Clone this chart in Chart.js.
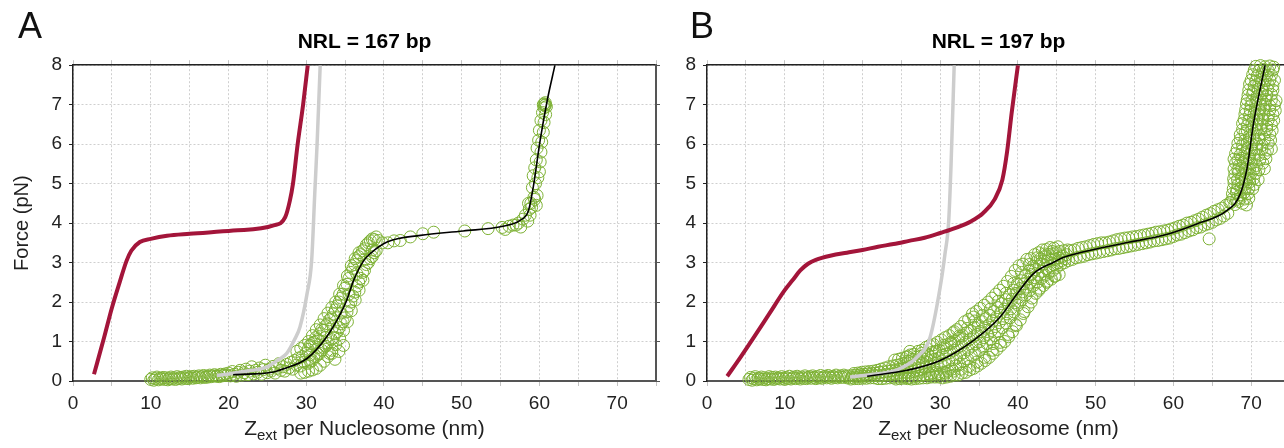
<!DOCTYPE html>
<html>
<head>
<meta charset="utf-8">
<script src="https://cdn.jsdelivr.net/npm/chart.js@4.4.1/dist/chart.umd.min.js"></script>
<style>
    body { margin: 0; background: #fff; }
    #wrap { position: relative; width: 1284px; height: 448px; overflow: hidden; font-family: "Liberation Sans", Arial, sans-serif; }
    canvas { position: absolute; top: 0; }
    .panel { position: absolute; font-size: 36px; line-height: 36px; color: #111; }
    .xlab { position: absolute; top: 416px; width: 583px; text-align: center; font-size: 21px; line-height: 24px; color: #222; }
    .xlab sub { font-size: 15px; line-height: 0; }
</style>
</head>
<body>
<div id="wrap">
    <canvas id="chartA" width="664" height="448" style="left:0"></canvas>
    <canvas id="chartB" width="664" height="448" style="left:634px"></canvas>
    <div class="panel" style="left:18px;top:8px">A</div>
    <div class="panel" style="left:690px;top:8px">B</div>
    <div class="xlab" style="left:73px">Z<sub>ext</sub> per Nucleosome (nm)</div>
    <div class="xlab" style="left:707px">Z<sub>ext</sub> per Nucleosome (nm)</div>
</div>
<script>
// panel A, NRL = 167 bp
const redAx = [2.7, 4.0, 5.0, 6.0, 6.9, 7.5, 8.6, 10, 12.1, 15, 20.6, 25.8, 27.3, 27.9, 28.3, 28.9, 29.6, 30.2];
const redAy = [0.17, 1.1, 1.85, 2.5, 3.05, 3.3, 3.52, 3.6, 3.68, 3.73, 3.81, 3.94, 4.15, 4.57, 5.0, 6.0, 7.0, 8.0];
const grayAx = [18.5, 20, 22, 24.9, 26.5, 27.5, 28.5, 29.2, 30.1, 30.7, 31.1, 31.4, 31.8];
const grayAy = [0.14, 0.18, 0.24, 0.35, 0.55, 0.7, 1.05, 1.37, 2.2, 3.05, 4.74, 6.0, 8.0];
const fitAx = [20.6, 25.8, 27.1, 30.1, 32.6, 34.4, 35.2, 36.1, 37.4, 38.2, 40.4, 44.7, 50.2, 55.3, 57.5, 58.6, 59.2, 60.1, 61.0, 62.0];
const fitAy = [0.16, 0.23, 0.31, 0.57, 1.11, 1.7, 2.04, 2.55, 3.05, 3.22, 3.52, 3.69, 3.8, 3.92, 4.07, 4.32, 4.9, 6.1, 7.1, 8.0];
const dataAx = [
    10.0, 10.2, 10.4, 10.6, 10.8, 11.0, 11.2, 11.4, 11.6, 11.8, 12.0, 12.2, 12.4, 12.6, 12.8, 13.0, 13.2, 13.4, 13.6, 13.8,
    14.0, 14.2, 14.4, 14.6, 14.8, 15.0, 15.2, 15.4, 15.6, 15.8, 16.0, 16.2, 16.4, 16.6, 16.8, 17.0, 17.2, 17.4, 17.6, 17.8,
    18.0, 18.2, 18.4, 18.6, 18.8, 19.0, 19.2, 19.4, 19.6, 19.8,
    20.0, 20.25, 20.5, 20.75, 21.0, 21.25, 21.5, 21.75, 22.0, 22.25, 22.5, 22.75, 23.0, 23.25, 23.5, 23.75, 24.0, 24.25, 24.5, 24.75,
    25.0, 25.25, 25.5, 25.75, 26.0, 26.25, 26.5, 26.75, 27.0, 27.25, 27.5, 27.75, 28.0, 28.25, 28.5, 28.75, 29.0, 29.25, 29.5, 29.75, 30.0,
    30.25, 30.25, 30.5, 30.5, 30.75, 30.75, 31.0, 31.0, 31.25, 31.25, 31.5, 31.5, 31.75, 31.75, 32.0, 32.0, 32.25, 32.25, 32.5, 32.5,
    32.75, 32.75, 33.0, 33.0, 33.25, 33.25, 33.5, 33.5, 33.75, 33.75, 34.0, 34.0, 34.25, 34.25, 34.5, 34.5, 34.75, 34.75, 35.0, 35.0,
    35.25, 35.25, 35.5, 35.5, 35.75, 35.75, 36.0, 36.0, 36.25, 36.25, 36.5, 36.5, 36.75, 36.75, 37.0, 37.0, 37.25, 37.25, 37.5, 37.5,
    37.75, 37.75, 38.0, 38.0, 38.25, 38.25, 38.5, 38.5, 38.75, 38.75, 39.0, 39.0,
    30.5, 31.5, 32.5, 33.5, 34.5, 35.5, 36.5, 37.5, 38.5, 33.3, 33.7, 34.2, 34.8,
    29.3, 28.8, 29.8, 29.3, 30.3, 29.8, 30.8, 30.3, 31.3, 30.8, 31.8, 31.3, 32.3, 31.8, 32.8, 32.3, 33.3, 32.8,
    33.8, 33.3, 34.3, 33.8, 34.8, 34.3, 35.3, 34.8, 35.8, 35.3, 36.3, 35.8, 36.8, 36.3, 37.3, 36.8,
    39.3, 39.8, 40.5, 41.3, 42.1, 43.4, 45.0, 46.4, 50.4, 53.4, 55.2, 55.6, 56.1, 56.6,
    57.0, 57.3, 57.6, 57.9, 58.2, 58.5, 58.7, 58.9, 58.6, 59.0, 59.4, 59.7, 59.1, 59.5, 59.2, 59.8, 59.4, 60.0, 59.6, 60.1,
    59.7, 60.2, 59.9, 60.3, 60.0, 60.5, 60.2, 60.6, 60.4, 60.8, 60.5, 60.6, 60.7, 60.8, 60.9, 60.6, 60.75, 59.3, 58.8, 59.6
];
const dataAy = [
    0.04, 0.08, 0.02, 0.06, 0.1, 0.03, 0.07, 0.05, 0.09, 0.04, 0.08, 0.03, 0.06, 0.1, 0.05, 0.08, 0.04, 0.11, 0.06, 0.09,
    0.05, 0.1, 0.07, 0.12, 0.06, 0.09, 0.11, 0.07, 0.12, 0.08, 0.1, 0.13, 0.08, 0.11, 0.14, 0.09, 0.12, 0.1, 0.15, 0.11,
    0.13, 0.16, 0.12, 0.14, 0.11, 0.17, 0.13, 0.15, 0.18, 0.14,
    0.2, 0.13, 0.24, 0.17, 0.12, 0.22, 0.27, 0.15, 0.21, 0.3, 0.16, 0.25, 0.36, 0.18, 0.27, 0.22, 0.33, 0.17, 0.29, 0.4,
    0.21, 0.3, 0.25, 0.37, 0.2, 0.32, 0.44, 0.27, 0.36, 0.25, 0.42, 0.33, 0.47, 0.3, 0.52, 0.4, 0.58, 0.38, 0.62, 0.48, 0.7,
    0.45, 0.8, 0.5, 0.9, 0.52, 0.95, 0.6, 0.98, 0.62, 1.1, 0.68, 1.05, 0.7, 1.2, 0.78, 1.3, 0.85, 1.28, 0.88, 1.4,
    0.95, 1.45, 0.7, 1.55, 1.05, 1.6, 1.1, 1.7, 1.2, 1.8, 1.25, 1.9, 1.35, 2.0, 1.45, 2.1, 1.5, 2.2, 1.6, 2.35,
    1.75, 2.45, 1.9, 2.6, 2.0, 2.75, 2.15, 2.85, 2.25, 2.95, 2.4, 3.05, 2.5, 3.15, 2.6, 3.2, 2.75, 3.3, 2.8, 3.35,
    2.95, 3.45, 3.0, 3.5, 3.1, 3.55, 3.15, 3.6, 3.25, 3.58, 3.3, 3.65,
    0.66, 0.85, 1.1, 1.38, 1.72, 2.2, 2.72, 3.08, 3.32, 0.7, 0.55, 0.75, 0.9,
    0.2, 0.75, 0.22, 0.82, 0.25, 0.9, 0.28, 1.0, 0.32, 1.15, 0.4, 1.3, 0.5, 1.42, 0.62, 1.58, 0.78, 1.72,
    0.92, 1.86, 1.08, 2.0, 1.28, 2.2, 1.5, 2.42, 1.78, 2.66, 2.05, 2.92, 2.3, 3.1, 2.55, 3.25,
    3.56, 3.5, 3.5, 3.55, 3.56, 3.65, 3.73, 3.77, 3.8, 3.86, 3.89, 3.84, 3.92, 3.95,
    3.95, 4.0, 3.9, 4.1, 4.2, 4.05, 4.35, 4.5, 4.5, 4.4, 4.6, 4.7, 4.9, 5.0, 5.2, 5.15, 5.4, 5.3, 5.6, 5.55,
    5.9, 5.8, 6.1, 6.05, 6.35, 6.3, 6.6, 6.55, 6.8, 6.75, 7.0, 7.02, 6.98, 7.0, 6.95, 6.92, 7.05, 4.65, 4.2, 4.45
];

// panel B, NRL = 197 bp
const redBx = [2.6, 4.3, 6, 8, 10, 11, 12, 13, 14, 16, 18, 20, 22, 24, 26, 28, 30, 32, 34, 35.5, 37, 38, 38.6, 39.2, 40];
const redBy = [0.12, 0.6, 1.1, 1.7, 2.3, 2.55, 2.8, 2.97, 3.07, 3.18, 3.25, 3.32, 3.4, 3.47, 3.55, 3.63, 3.75, 3.88, 4.05, 4.25, 4.6, 5.1, 5.8, 6.8, 8.0];
const grayBx = [18.4, 21, 23.6, 25.5, 27, 28.7, 30.0, 30.6, 31.1, 31.4, 31.8];
const grayBy = [0.1, 0.16, 0.23, 0.38, 0.6, 1.11, 2.38, 3.2, 4.07, 5.5, 8.0];
const fitBx = [20.6, 25.7, 30, 34.3, 37.7, 39.9, 42, 44.6, 46, 50.2, 54.4, 58.7, 63, 66.9, 68.6, 69.5, 70.3, 71.8];
const fitBy = [0.12, 0.27, 0.52, 1.03, 1.62, 2.21, 2.72, 3.01, 3.14, 3.35, 3.52, 3.69, 3.98, 4.32, 4.74, 5.42, 6.52, 8.0];
const dataBx = [
    5.4, 5.6, 5.8, 6.0, 6.2, 6.4, 6.6, 6.8, 7.0, 7.2, 7.4, 7.6, 7.8, 8.0, 8.2, 8.4, 8.6, 8.8, 9.0, 9.2,
    9.4, 9.6, 9.8, 10.0, 10.2, 10.4, 10.6, 10.8, 11.0, 11.2, 11.4, 11.6, 11.8, 12.0, 12.2, 12.4, 12.6, 12.8, 13.0, 13.2,
    13.4, 13.6, 13.8, 14.0, 14.2, 14.4, 14.6, 14.8, 15.0, 15.2, 15.4, 15.6, 15.8, 16.0, 16.2, 16.4, 16.6, 16.8, 17.0, 17.2,
    17.4, 17.6, 17.8, 18.0, 18.2,
    18.5, 18.6, 18.75, 18.9, 19.0, 19.1, 19.25, 19.4, 19.5, 19.6, 19.75, 19.9, 20.0, 20.1, 20.25, 20.4,
    20.5, 20.6, 20.75, 20.9, 21.0, 21.1, 21.25, 21.4, 21.5, 21.6, 21.75, 21.9, 22.0, 22.1, 22.25, 22.4,
    22.5, 22.6, 22.75, 22.9, 23.0, 23.1, 23.25, 23.4, 23.5, 23.6, 23.75, 23.9, 24.0, 24.1, 24.25, 24.4,
    24.5, 24.6, 24.75, 24.9, 25.0, 25.1, 25.25, 25.4, 25.5, 25.6, 25.75, 25.9, 26.0, 26.1, 26.25, 26.4,
    26.5, 26.6, 26.75, 26.9, 27.0, 27.1, 27.25, 27.4, 27.5, 27.6, 27.75, 27.9, 28.0, 28.1, 28.25, 28.4,
    28.5, 28.6, 28.75, 28.9, 29.0, 29.1, 29.25, 29.4, 29.5, 29.6, 29.75, 29.9, 30.0, 30.1, 30.25, 30.4,
    30.5, 30.6, 30.75, 30.9, 31.0, 31.1, 31.25, 31.4, 31.5, 31.6, 31.75, 31.9, 32.0, 32.1, 32.25, 32.4,
    32.5, 32.6, 32.75, 32.9, 33.0, 33.1, 33.25, 33.4, 33.5, 33.6, 33.75, 33.9, 34.0, 34.1, 34.25, 34.4,
    34.5, 34.6, 34.75, 34.9, 35.0, 35.1, 35.25, 35.4, 35.5, 35.6, 35.75, 35.9, 36.0, 36.1, 36.25, 36.4,
    36.5, 36.6, 36.75, 36.9, 37.0, 37.1, 37.25, 37.4, 37.5, 37.6, 37.75, 37.9, 38.0, 38.1, 38.25, 38.4,
    38.5, 38.6, 38.75, 38.9, 39.0, 39.1, 39.25, 39.4, 39.5, 39.6, 39.75, 39.9, 40.0, 40.1, 40.25, 40.4,
    40.5, 40.6, 40.75, 40.9, 41.0, 41.1, 41.25, 41.4, 41.5, 41.6, 41.75, 41.9, 42.0, 42.1, 42.25, 42.4,
    42.5, 42.6, 42.75, 42.9, 43.0, 43.1, 43.25, 43.4, 43.5, 43.6, 43.75, 43.9, 44.0, 44.1, 44.25, 44.4,
    44.5, 44.6, 44.75, 44.9, 45.0, 45.1, 45.25, 45.4, 45.5, 45.6, 45.75, 45.9, 46.0, 46.1, 46.25, 46.4,
    25.8, 26.1, 34.3, 36.8, 27.6, 31.8,
    24.3, 24.15, 24.8, 24.65, 25.3, 25.15, 25.8, 25.65, 26.3, 26.15, 26.8, 26.65, 27.3, 27.15, 27.8, 27.65,
    28.3, 28.15, 28.8, 28.65, 29.3, 29.15, 29.8, 29.65, 30.3, 30.15, 30.8, 30.65, 31.3, 31.15, 31.8, 31.65,
    32.3, 32.15, 32.8, 32.65, 33.3, 33.15, 33.8, 33.65, 34.3, 34.15, 34.8, 34.65, 35.3, 35.15, 35.8, 35.65,
    36.3, 36.15, 36.8, 36.65, 37.3, 37.15, 37.8, 37.65, 38.3, 38.15, 38.8, 38.65, 39.3, 39.15, 39.8, 39.65,
    40.3, 40.15, 40.8, 40.65, 41.3, 41.15, 41.8, 41.65, 42.3, 42.15, 42.8, 42.65, 43.3, 43.15, 43.8, 43.65,
    44.3, 44.15, 44.8, 44.65, 45.3, 45.15,
    28.7, 28.45, 29.7, 29.45, 30.7, 30.45, 31.7, 31.45, 32.7, 32.45, 33.7, 33.45, 34.7, 34.45, 35.7, 35.45,
    36.7, 36.45, 37.7, 37.45, 38.7, 38.45, 39.7, 39.45, 40.7, 40.45, 41.7, 41.45, 42.7, 42.45, 43.7, 43.45,
    44.7, 44.45,
    46.5, 46.75, 47.0, 47.25, 47.5, 47.75, 48.0, 48.25, 48.5, 48.75, 49.0, 49.25, 49.5, 49.75, 50.0, 50.25, 50.5, 50.75, 51.0, 51.25,
    51.5, 51.75, 52.0, 52.25, 52.5, 52.75, 53.0, 53.25, 53.5, 53.75, 54.0, 54.25, 54.5, 54.75, 55.0, 55.25, 55.5, 55.75, 56.0, 56.25,
    56.5, 56.75, 57.0, 57.25, 57.5, 57.75, 58.0, 58.25, 58.5, 58.75, 59.0, 59.25, 59.5, 59.75, 60.0, 60.25, 60.5, 60.75, 61.0, 61.25,
    61.5, 61.75, 62.0, 62.25, 62.5, 62.75, 63.0, 63.25, 63.5, 63.75, 64.0, 64.25, 64.5, 64.75, 65.0, 65.25, 65.5, 65.75, 66.0, 66.25,
    66.5, 66.75, 67.0, 67.25, 64.6,
    67.4, 67.9, 68.4, 68.9, 69.4,
    67.6, 68.1, 68.6, 69.1, 69.6,
    67.8, 68.3, 68.8, 69.3, 69.8, 70.4,
    67.9, 68.4, 68.9, 69.4, 69.9, 70.6,
    68.0, 68.5, 69.0, 69.5, 70.0, 70.7, 71.5,
    68.0, 68.6, 69.2, 69.8, 70.4, 71.0, 71.8,
    68.3, 68.9, 69.5, 70.1, 70.7, 71.4, 72.2,
    68.6, 69.2, 69.8, 70.4, 71.0, 71.7, 72.4,
    68.9, 69.5, 70.1, 70.7, 71.3, 72.0, 72.6,
    69.2, 69.8, 70.4, 71.0, 71.6, 72.2, 72.8,
    69.4, 70.0, 70.6, 71.2, 71.8, 72.4, 73.0,
    69.6, 70.2, 70.8, 71.4, 72.0, 72.6,
    69.8, 70.4, 71.0, 71.6, 72.2, 72.8,
    70.2, 70.8, 71.4, 72.0, 72.6,
    70.6, 71.2, 71.8, 72.4, 72.9,
    67.65, 68.15, 68.65, 69.15, 69.7,
    67.7, 68.2, 68.7, 69.2, 69.7, 70.2,
    67.75, 68.25, 68.75, 69.25, 69.75, 70.3, 70.9,
    67.8, 68.3, 68.8, 69.3, 69.8, 70.4, 71.0, 71.7,
    67.8, 68.3, 68.8, 69.3, 69.8, 70.4, 71.1, 71.9,
    68.2, 68.9, 69.5, 70.1, 70.7, 71.4, 72.1, 72.6,
    68.6, 69.2, 69.8, 70.4, 71.0, 71.7, 72.5,
    68.9, 69.5, 70.1, 70.7, 71.3, 72.0, 72.7,
    69.1, 69.7, 70.3, 70.9, 71.5, 72.2, 72.9,
    69.3, 69.9, 70.5, 71.1, 71.7, 72.4, 73.1,
    69.5, 70.1, 70.7, 71.3, 71.9, 72.6, 73.2,
    69.7, 70.3, 70.9, 71.5, 72.1, 72.8,
    70.0, 70.6, 71.2, 71.8, 72.4, 73.0,
    70.4, 71.0, 71.6, 72.2, 72.8
];
const dataBy = [
    0.04, 0.09, 0.02, 0.06, 0.11, 0.03, 0.07, 0.05, 0.1, 0.04, 0.08, 0.03, 0.06, 0.11, 0.05, 0.09, 0.04, 0.1, 0.06, 0.08,
    0.05, 0.11, 0.07, 0.04, 0.09, 0.06, 0.12, 0.05, 0.08, 0.1, 0.06, 0.12, 0.08, 0.05, 0.1, 0.07, 0.13, 0.06, 0.09, 0.11,
    0.07, 0.13, 0.09, 0.06, 0.11, 0.08, 0.14, 0.07, 0.1, 0.12, 0.08, 0.14, 0.1, 0.07, 0.12, 0.09, 0.15, 0.08, 0.11, 0.13,
    0.09, 0.15, 0.11, 0.08, 0.13,
    0.05, 0.09, 0.14, 0.19, 0.06, 0.1, 0.15, 0.2, 0.06, 0.11, 0.16, 0.22, 0.07, 0.12, 0.17, 0.23,
    0.07, 0.12, 0.18, 0.24, 0.08, 0.13, 0.19, 0.25, 0.08, 0.14, 0.2, 0.27, 0.06, 0.13, 0.22, 0.3,
    0.06, 0.14, 0.23, 0.33, 0.07, 0.16, 0.25, 0.36, 0.08, 0.17, 0.26, 0.38, 0.09, 0.18, 0.28, 0.4,
    0.1, 0.2, 0.3, 0.42, 0.11, 0.22, 0.32, 0.45, 0.1, 0.22, 0.33, 0.5, 0.08, 0.22, 0.36, 0.55,
    0.1, 0.24, 0.38, 0.6, 0.12, 0.27, 0.41, 0.62, 0.14, 0.3, 0.45, 0.65, 0.16, 0.33, 0.48, 0.68,
    0.18, 0.36, 0.52, 0.72, 0.2, 0.38, 0.55, 0.75, 0.22, 0.41, 0.58, 0.78, 0.18, 0.42, 0.65, 0.9,
    0.22, 0.45, 0.68, 0.92, 0.25, 0.5, 0.72, 0.98, 0.3, 0.55, 0.78, 1.02, 0.38, 0.6, 0.85, 1.08,
    0.42, 0.66, 0.9, 1.15, 0.5, 0.72, 0.98, 1.22, 0.56, 0.8, 1.05, 1.28, 0.65, 0.88, 1.12, 1.36,
    0.7, 0.94, 1.18, 1.42, 0.78, 1.0, 1.25, 1.5, 0.86, 1.1, 1.34, 1.58, 0.95, 1.18, 1.42, 1.66,
    1.05, 1.28, 1.52, 1.76, 1.15, 1.38, 1.62, 1.86, 1.25, 1.48, 1.72, 1.96, 1.35, 1.58, 1.82, 2.06,
    1.46, 1.7, 1.94, 2.18, 1.6, 1.83, 2.07, 2.3, 1.75, 1.98, 2.22, 2.45, 1.92, 2.12, 2.34, 2.54,
    2.06, 2.26, 2.46, 2.66, 2.18, 2.38, 2.58, 2.78, 2.3, 2.5, 2.7, 2.9, 2.42, 2.62, 2.82, 3.02,
    2.5, 2.7, 2.9, 3.1, 2.6, 2.78, 2.96, 3.15, 2.68, 2.85, 3.02, 3.2, 2.75, 2.9, 3.06, 3.22,
    2.8, 2.95, 3.08, 3.25, 2.88, 3.0, 3.12, 3.28, 2.95, 3.05, 3.16, 3.3, 3.0, 3.1, 3.2, 3.32,
    0.62, 0.75, 1.62, 0.95, 0.7, 1.25,
    0.05, 0.53, 0.06, 0.55, 0.07, 0.58, 0.06, 0.6, 0.05, 0.66, 0.06, 0.68, 0.07, 0.75, 0.08, 0.78,
    0.08, 0.85, 0.1, 0.9, 0.1, 0.92, 0.1, 0.98, 0.08, 1.04, 0.1, 1.1, 0.12, 1.15, 0.15, 1.22,
    0.15, 1.3, 0.2, 1.38, 0.22, 1.5, 0.28, 1.56, 0.32, 1.7, 0.38, 1.76, 0.45, 1.84, 0.52, 1.92,
    0.6, 2.0, 0.7, 2.1, 0.8, 2.2, 0.9, 2.3, 1.0, 2.4, 1.12, 2.52, 1.25, 2.65, 1.4, 2.8,
    1.55, 2.92, 1.76, 2.96, 1.88, 3.08, 2.1, 3.1, 2.22, 3.2, 2.35, 3.25, 2.42, 3.32, 2.53, 3.33,
    2.58, 3.38, 2.66, 3.36, 2.7, 3.4,
    0.15, 0.65, 0.18, 0.74, 0.2, 0.84, 0.25, 0.95, 0.3, 1.14, 0.37, 1.33, 0.48, 1.52, 0.6, 1.66,
    0.78, 1.82, 0.98, 2.02, 1.18, 2.22, 1.43, 2.47, 1.71, 2.75, 2.0, 2.95, 2.3, 3.12, 2.5, 3.22,
    2.65, 3.28,
    3.05, 3.3, 3.08, 3.32, 3.12, 3.36, 3.14, 3.38, 3.16, 3.4, 3.2, 3.43, 3.22, 3.46, 3.24, 3.48, 3.26, 3.5, 3.28, 3.5,
    3.3, 3.52, 3.32, 3.55, 3.35, 3.58, 3.36, 3.6, 3.38, 3.62, 3.4, 3.63, 3.42, 3.65, 3.44, 3.66, 3.46, 3.68, 3.48, 3.7,
    3.5, 3.72, 3.52, 3.74, 3.55, 3.77, 3.56, 3.78, 3.58, 3.8, 3.6, 3.82, 3.62, 3.85, 3.66, 3.88, 3.7, 3.92, 3.72, 3.95,
    3.76, 4.0, 3.8, 4.02, 3.83, 4.06, 3.88, 4.1, 3.9, 4.15, 3.95, 4.2, 3.98, 4.24, 4.02, 4.3, 4.08, 4.34, 4.12, 4.38,
    4.18, 4.45, 4.25, 4.52, 3.6,
    4.52, 4.47, 4.55, 4.5, 4.46,
    4.74, 4.78, 4.72, 4.77, 4.75,
    5.02, 4.97, 5.03, 4.99, 5.04, 4.98,
    5.24, 5.28, 5.22, 5.27, 5.23, 5.26,
    5.52, 5.47, 5.53, 5.49, 5.51, 5.46, 5.52,
    5.76, 5.73, 5.78, 5.74, 5.77, 5.72, 5.76,
    6.02, 5.98, 6.03, 5.99, 6.01, 5.97, 6.02,
    6.24, 6.28, 6.22, 6.27, 6.23, 6.26, 6.24,
    6.52, 6.47, 6.53, 6.49, 6.51, 6.46, 6.5,
    6.76, 6.73, 6.78, 6.74, 6.77, 6.72, 6.75,
    7.02, 6.98, 7.03, 6.99, 7.01, 6.97, 7.0,
    7.24, 7.28, 7.22, 7.27, 7.23, 7.26,
    7.52, 7.47, 7.53, 7.49, 7.51, 7.48,
    7.76, 7.73, 7.78, 7.74, 7.75,
    7.97, 7.99, 7.96, 7.98, 7.95,
    4.62, 4.6, 4.64, 4.61, 4.63,
    4.87, 4.85, 4.89, 4.86, 4.88, 4.87,
    5.12, 5.1, 5.14, 5.11, 5.13, 5.12, 5.1,
    5.37, 5.35, 5.39, 5.36, 5.38, 5.37, 5.35, 5.38,
    5.62, 5.6, 5.64, 5.61, 5.63, 5.62, 5.6, 5.63,
    5.87, 5.85, 5.89, 5.86, 5.88, 5.87, 5.85, 5.88,
    6.12, 6.1, 6.14, 6.11, 6.13, 6.12, 6.1,
    6.37, 6.35, 6.39, 6.36, 6.38, 6.37, 6.35,
    6.62, 6.6, 6.64, 6.61, 6.63, 6.62, 6.6,
    6.87, 6.85, 6.89, 6.86, 6.88, 6.87, 6.85,
    7.12, 7.1, 7.14, 7.11, 7.13, 7.12, 7.1,
    7.37, 7.35, 7.39, 7.36, 7.38, 7.37,
    7.62, 7.6, 7.64, 7.61, 7.63, 7.62,
    7.87, 7.85, 7.89, 7.86, 7.88
];

const fontFamily = "'Liberation Sans', Arial, sans-serif";
const textClr = '#222';
const gridClr = '#cfcfcf';
Chart.defaults.font.family = fontFamily;

function pts(xs, ys) {
    return xs.map(function (x, i) { return { x: x, y: ys[i] }; });
}

function makeChart(id, title, showYTitle, redX, redY, grayX, grayY, fitX, fitY, dataX, dataY) {
    new Chart(document.getElementById(id), {
        type: 'scatter',
        data: {
            datasets: [{
                label: 'fit',
                data: pts(fitX, fitY),
                showLine: true,
                borderColor: '#000',
                borderWidth: 1.6,
                pointRadius: 0,
                cubicInterpolationMode: 'monotone'
            }, {
                label: 'red',
                data: pts(redX, redY),
                showLine: true,
                borderColor: '#a3153a',
                borderWidth: 4,
                pointRadius: 0,
                cubicInterpolationMode: 'monotone'
            }, {
                label: 'gray',
                data: pts(grayX, grayY),
                showLine: true,
                borderColor: '#cdcdcd',
                borderWidth: 3.5,
                pointRadius: 0,
                cubicInterpolationMode: 'monotone'
            }, {
                label: 'data',
                data: pts(dataX, dataY),
                showLine: false,
                pointRadius: 6,
                pointHoverRadius: 6,
                borderWidth: 1,
                borderColor: '#7db134',
                backgroundColor: 'rgba(0,0,0,0)',
                clip: 8
            }]
        },
        options: {
            responsive: false,
            animation: false,
            events: [],
            layout: { padding: 0 },
            plugins: {
                legend: { display: false },
                tooltip: { enabled: false },
                title: {
                    display: true,
                    text: title,
                    fullSize: false,
                    color: '#000',
                    font: { size: 21, weight: 'bold' },
                    padding: { top: 30, bottom: 0 }
                }
            },
            scales: {
                x: {
                    type: 'linear',
                    position: 'bottom',
                    min: 0,
                    max: 75,
                    afterFit: function (s) { s.height = 67; },
                    ticks: {
                        stepSize: 5,
                        autoSkip: false,
                        maxRotation: 0,
                        padding: 6,
                        color: textClr,
                        font: { size: 19 },
                        callback: function (v) { return v % 10 === 0 ? v : ''; }
                    },
                    grid: { color: gridClr, lineWidth: 1, tickLength: 5, tickColor: '#c4c4c4' },
                    border: { color: '#555', width: 2, dash: [2, 2] }
                },
                y: {
                    type: 'linear',
                    position: 'left',
                    min: 0,
                    max: 8,
                    afterFit: function (s) { s.width = 73; },
                    ticks: { stepSize: 1, padding: 7, color: textClr, font: { size: 19 } },
                    grid: { color: gridClr, lineWidth: 1, tickLength: 4, tickColor: '#222' },
                    border: { color: '#222', width: 1.5, dash: [2, 2] },
                    title: {
                        display: showYTitle,
                        text: 'Force (pN)',
                        color: textClr,
                        font: { size: 20 },
                        padding: { top: 10, bottom: 0 }
                    }
                },
                x2: {
                    type: 'linear',
                    position: 'top',
                    min: 0,
                    max: 75,
                    afterFit: function (s) { s.height = 10; },
                    ticks: { display: false, stepSize: 5 },
                    grid: { drawOnChartArea: false, tickLength: 5, tickColor: '#c4c4c4' },
                    border: { color: '#222', width: 1.5 }
                },
                y2: {
                    type: 'linear',
                    position: 'right',
                    min: 0,
                    max: 8,
                    afterFit: function (s) { s.width = 8; },
                    ticks: { display: false, stepSize: 1 },
                    grid: { drawOnChartArea: false, tickLength: 4, tickColor: '#555' },
                    border: { color: '#555', width: 2 }
                }
            }
        }
    });
}

makeChart('chartA', 'NRL = 167 bp', true, redAx, redAy, grayAx, grayAy, fitAx, fitAy, dataAx, dataAy);
makeChart('chartB', 'NRL = 197 bp', false, redBx, redBy, grayBx, grayBy, fitBx, fitBy, dataBx, dataBy);
</script>
</body>
</html>
